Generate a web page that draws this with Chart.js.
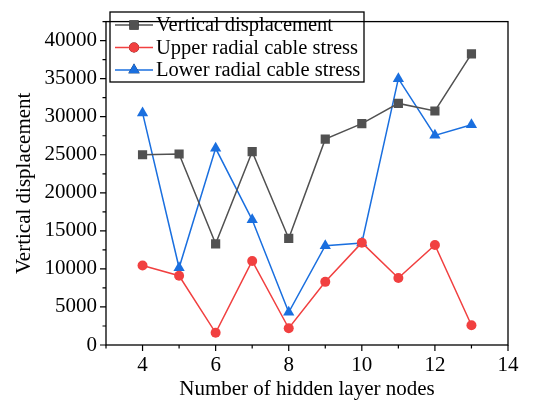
<!DOCTYPE html>
<html>
<head>
<meta charset="utf-8">
<script src="https://cdn.jsdelivr.net/npm/chart.js@4"></script>
<style>
  html, body { margin: 0; padding: 0; background: #fff; }
  #wrap { width: 540px; height: 402px; }
</style>
</head>
<body>
<div id="wrap"><canvas id="c" width="540" height="402"></canvas></div>
<script>
const nodes = [4, 5, 6, 7, 8, 9, 10, 11, 12, 13];
const verticalDisp = [25000, 25100, 13300, 25400, 14000, 27050, 29100, 31750, 30750, 38250];
const upperStress = [10450, 9100, 1600, 11050, 2200, 8300, 13450, 8800, 13150, 2600];
const lowerStress = [30500, 10150, 25850, 16450, 4300, 13050, 13400, 35000, 27550, 28950];
const seriesNames = ['Vertical displacement', 'Upper radial cable stress', 'Lower radial cable stress'];
const xTicks = [4, 6, 8, 10, 12, 14];
const yTicks = [0, 5000, 10000, 15000, 20000, 25000, 30000, 35000, 40000];

const FONT = '"Liberation Serif", "Times New Roman", serif';
Chart.defaults.font.family = FONT;
const colors = ['#515151', '#f14040', '#1a6fdf'];
const shapes = ['rect', 'circle', 'triangle'];
const radii = [6.5, 5, 6.5];

const toPts = arr => arr.map((v, i) => ({x: nodes[i], y: v}));

const frameAndTicks = {
  id: 'frameAndTicks',
  afterDraw(chart) {
    const ctx = chart.ctx;
    const a = chart.chartArea;
    const xs = chart.scales.x, ys = chart.scales.y;
    ctx.save();
    ctx.strokeStyle = '#000';
    ctx.lineWidth = 1.3;
    ctx.strokeRect(a.left, a.top, a.right - a.left, a.bottom - a.top);
    ctx.lineWidth = 1.2;
    ctx.beginPath();
    // x ticks, major and minor
    for (let v = 3; v <= 14; v++) {
      const px = xs.getPixelForValue(v);
      const len = (v % 2 === 0) ? 6 : 3.5;
      ctx.moveTo(px, a.bottom);
      ctx.lineTo(px, a.bottom + len);
    }
    // y ticks
    for (let v = 0; v <= 42500; v += 2500) {
      const py = ys.getPixelForValue(v);
      const len = (v % 5000 === 0) ? 6 : 3.5;
      ctx.moveTo(a.left, py);
      ctx.lineTo(a.left - len, py);
    }
    ctx.stroke();

    // legend box inside the plot
    const bx = 110, by = 12, bw = 254, bh = 70;
    ctx.lineWidth = 1.3;
    ctx.strokeRect(bx, by, bw, bh);
    ctx.font = '20.5px ' + FONT;
    ctx.textBaseline = 'middle';
    ctx.textAlign = 'left';
    chart.data.datasets.forEach((ds, i) => {
      const y = 25 + i * 22.5;
      ctx.strokeStyle = ds.borderColor;
      ctx.lineWidth = 1.5;
      ctx.beginPath();
      ctx.moveTo(115, y);
      ctx.lineTo(153, y);
      ctx.stroke();
      Chart.helpers.drawPoint(ctx, {
        pointStyle: ds.pointStyle, radius: ds.pointRadius, borderWidth: 0
      }, 134, y);
      ctx.fillStyle = ds.backgroundColor;
      ctx.fill();
      ctx.fillStyle = '#000';
      ctx.fillText(ds.label, 156, y + 1);
    });
    ctx.restore();
  }
};

new Chart(document.getElementById('c'), {
  type: 'line',
  data: {
    datasets: [verticalDisp, upperStress, lowerStress].map((arr, i) => ({
      label: seriesNames[i],
      data: toPts(arr),
      borderColor: colors[i],
      backgroundColor: colors[i],
      pointBackgroundColor: colors[i],
      pointBorderWidth: 0,
      pointStyle: shapes[i],
      pointRadius: radii[i],
      borderWidth: 1.5,
      tension: 0
    }))
  },
  options: {
    responsive: false,
    animation: false,
    layout: { padding: { top: 9, right: 32, left: 0, bottom: 0 } },
    plugins: { legend: { display: false }, tooltip: { enabled: false } },
    scales: {
      x: {
        type: 'linear',
        min: 3, max: 14,
        afterBuildTicks: s => { s.ticks = xTicks.map(v => ({value: v})); },
        afterFit: s => { s.height = 57; },
        grid: { display: false, drawTicks: false },
        border: { display: false },
        ticks: { color: '#000', font: { family: FONT, size: 21 }, padding: 8, maxRotation: 0,
                 callback: v => String(v) },
        title: { display: true, text: 'Number of hidden layer nodes', color: '#000',
                 font: { family: FONT, size: 21 }, padding: { top: 0, bottom: 0 } }
      },
      y: {
        min: 0, max: 42500,
        afterBuildTicks: s => { s.ticks = yTicks.map(v => ({value: v})); },
        afterFit: s => { s.width = 106; },
        grid: { display: false, drawTicks: false },
        border: { display: false },
        ticks: { color: '#000', font: { family: FONT, size: 21 }, padding: 9,
                 callback: v => String(v) },
        title: { display: true, text: 'Vertical displacement', color: '#000',
                 font: { family: FONT, size: 21 }, padding: { top: 12, bottom: 0 } }
      }
    }
  },
  plugins: [frameAndTicks]
});
</script>
</body>
</html>
